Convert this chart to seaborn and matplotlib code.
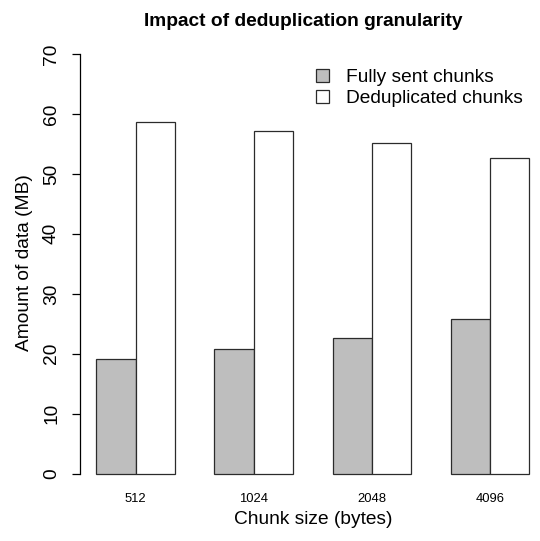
import matplotlib
matplotlib.use("Agg")
import matplotlib.pyplot as plt
import pandas as pd
import seaborn as sns

# values
chunk_sizes = ["512", "1024", "2048", "4096"]
fully_sent = [19.1, 20.8, 22.7, 25.8]
deduplicated = [58.6, 57.1, 55.2, 52.6]
series_names = ["Fully sent chunks", "Deduplicated chunks"]

df = pd.DataFrame({
    "size": chunk_sizes * 2,
    "amount": fully_sent + deduplicated,
    "kind": [series_names[0]] * 4 + [series_names[1]] * 4,
})

sns.set_style("white", {"text.color": "black", "axes.labelcolor": "black",
                        "xtick.color": "black", "ytick.color": "black",
                        "ytick.left": True})
plt.rcParams["font.family"] = ["Liberation Sans", "DejaVu Sans"]

W, H = 540, 541
fig = plt.figure(figsize=(W / 100, H / 100), dpi=100)
# axes placed in pixels: left 80, right 540, top 37.2, bottom 490.5
ax = fig.add_axes([80 / W, (H - 490.5) / H, 460 / W, (490.5 - 37.2) / H])

sns.barplot(data=df, x="size", y="amount", hue="kind", order=chunk_sizes,
            hue_order=series_names, palette=["#bebebe", "white"],
            width=2 / 3, gap=0, edgecolor="#2b2b2b", linewidth=0.9,
            saturation=1, ax=ax)

ax.set_xlim(-0.473, 3.425)
ax.set_ylim(-2.8, 72.8)

for s in ["top", "right", "bottom"]:
    ax.spines[s].set_visible(False)
ax.spines["left"].set_bounds(0, 70)
ax.spines["left"].set_color("black")
ax.spines["left"].set_linewidth(0.9)

ax.set_yticks(range(0, 71, 10))
ax.tick_params(axis="y", left=True, length=5.8, width=0.9, color="black",
               labelcolor="black", pad=8.6, labelsize=13.8)
for t in ax.get_yticklabels():
    t.set_rotation(90)
    t.set_va("center")
ax.tick_params(axis="x", length=0, pad=2.0, labelsize=9.4, labelcolor="black")

ax.set_ylabel("Amount of data (MB)", fontsize=13.8, va="center", color="black")
ax.yaxis.set_label_coords(-0.1196, 0.503)
ax.set_xlabel("Chunk size (bytes)", fontsize=13.8, va="center", color="black")
ax.xaxis.set_label_coords(0.5076, -0.065)

fig.text(303 / W, 1 - 22 / H, "Impact of deduplication granularity",
         ha="center", va="center", fontsize=13.8, fontweight="bold",
         color="black")

handles, labels = ax.get_legend_handles_labels()
leg = ax.legend(handles, labels, frameon=False, loc="upper left",
                bbox_to_anchor=(316 / W, 1 - 69 / H),
                bbox_transform=fig.transFigure,
                borderaxespad=0, borderpad=0, fontsize=13.8,
                handlelength=0.68, handleheight=0.68, handletextpad=0.9,
                labelspacing=0.2)
for t in leg.get_texts():
    t.set_color("black")

fig.savefig("out.png", dpi=100)
